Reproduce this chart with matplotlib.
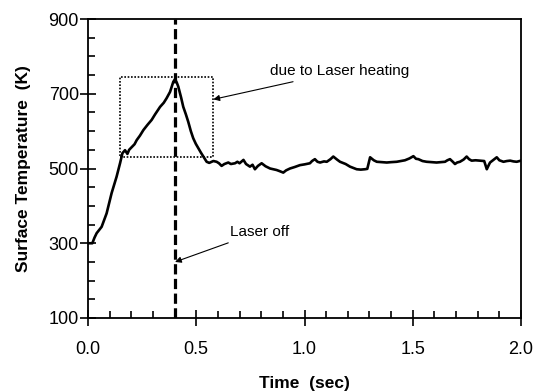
import matplotlib
matplotlib.use("Agg")
import matplotlib.pyplot as plt
from matplotlib.ticker import MultipleLocator
from matplotlib.patches import Rectangle

plt.rcParams['font.family'] = ['Liberation Sans', 'DejaVu Sans']

time_s = [0.0, 0.02, 0.03, 0.04, 0.063, 0.086, 0.109, 0.132, 0.148, 0.159,
          0.171, 0.182, 0.19, 0.202, 0.215, 0.225, 0.24, 0.256, 0.275, 0.294,
          0.31, 0.333, 0.35, 0.363, 0.379, 0.394, 0.402, 0.41, 0.417, 0.43,
          0.44, 0.452, 0.463, 0.475, 0.486, 0.498, 0.51, 0.522, 0.533, 0.548,
          0.56, 0.571, 0.579, 0.594, 0.605, 0.617, 0.63, 0.648, 0.66, 0.679,
          0.69, 0.70, 0.718, 0.73, 0.748, 0.76, 0.771, 0.785, 0.802, 0.82,
          0.841, 0.855, 0.871, 0.885, 0.902, 0.915, 0.933, 0.955, 0.979, 1.0,
          1.025, 1.035, 1.048, 1.06, 1.072, 1.09, 1.103, 1.12, 1.133, 1.15,
          1.164, 1.19, 1.21, 1.241, 1.26, 1.279, 1.29, 1.303, 1.32, 1.334,
          1.36, 1.38, 1.40, 1.426, 1.445, 1.464, 1.485, 1.503, 1.515, 1.526,
          1.545, 1.564, 1.59, 1.61, 1.63, 1.649, 1.66, 1.672, 1.685, 1.695,
          1.705, 1.718, 1.735, 1.749, 1.76, 1.772, 1.79, 1.811, 1.83, 1.842,
          1.85, 1.857, 1.87, 1.888, 1.90, 1.919, 1.935, 1.95, 1.965, 1.98,
          2.0]
temp_K = [300, 300, 315, 327, 344, 380, 434, 478, 514, 541,
          549, 539, 550, 557, 565, 576, 588, 603, 617, 630,
          645, 665, 676, 688, 705, 732, 739, 730, 719, 690,
          665, 645, 625, 600, 581, 566, 554, 542, 532, 518,
          515, 518, 520, 518, 514, 507, 512, 516, 512, 514,
          518, 514, 523, 512, 505, 510, 498, 507, 514, 506,
          500, 498, 496, 493, 489, 495, 500, 504, 509, 511,
          514, 520, 525, 518, 516, 519, 518, 525, 532, 524,
          518, 512, 505, 498, 497, 498, 499, 530, 522, 518,
          517, 516, 517, 518, 520, 522, 527, 533, 526, 525,
          520, 518, 517, 516, 517, 518, 522, 525, 518, 512,
          516, 518, 524, 532, 525, 521, 522, 521, 520, 498,
          508, 516, 522, 530, 522, 518, 520, 521, 519, 518,
          521]

laser_off_time = 0.4
box_t = [0.148, 0.579]
box_T = [532, 745]
x_ticks = [0.0, 0.5, 1.0, 1.5, 2.0]
x_ticklabels = ['0.0', '0.5', '1.0', '1.5', '2.0']
y_ticks = [100, 300, 500, 700, 900]
y_ticklabels = ['100', '300', '500', '700', '900']

fig = plt.figure(figsize=(5.34, 3.92), dpi=100)
ax = fig.add_axes([88/534, 1-318/392, (521-88)/534, (318-19)/392])

ax.plot(time_s, temp_K, color='black', lw=1.9, solid_joinstyle='round')
ax.axvline(laser_off_time, color='black', lw=2.3, linestyle=(0, (3.2, 1.4)))
ax.add_patch(Rectangle((box_t[0], box_T[0]), box_t[1]-box_t[0], box_T[1]-box_T[0],
                       fill=False, edgecolor='black', lw=1.2, linestyle=(0, (1, 1))))

ax.annotate('due to Laser heating', xy=(0.579, 685), xytext=(0.842, 760),
            fontsize=11, va='center', ha='left',
            arrowprops=dict(arrowstyle='-|>', color='black', lw=0.8,
                            mutation_scale=9, shrinkA=2, shrinkB=0))
ax.annotate('Laser off', xy=(0.402, 250), xytext=(0.655, 331),
            fontsize=11, va='center', ha='left',
            arrowprops=dict(arrowstyle='-|>', color='black', lw=0.8,
                            mutation_scale=9, shrinkA=3, shrinkB=0))

ax.set_xlim(0, 2.0)
ax.set_ylim(100, 900)
ax.set_xticks(x_ticks)
ax.set_xticklabels(x_ticklabels)
ax.set_yticks(y_ticks)
ax.set_yticklabels(y_ticklabels)
ax.xaxis.set_minor_locator(MultipleLocator(0.1))
ax.yaxis.set_minor_locator(MultipleLocator(50))
ax.tick_params(which='major', direction='inout', length=11, width=1.2, labelsize=13)
ax.tick_params(which='minor', direction='in', length=5, width=1.2)
ax.tick_params(axis='x', which='major', pad=11)
ax.tick_params(axis='y', which='major', pad=1)
for s in ax.spines.values():
    s.set_linewidth(1.3)

ax.set_xlabel('Time  (sec)', fontsize=12.5, fontweight='bold', labelpad=13)
ax.set_ylabel('Surface Temperature  (K)', fontsize=12.5, fontweight='bold', labelpad=13)

fig.savefig('out.png', dpi=100)
